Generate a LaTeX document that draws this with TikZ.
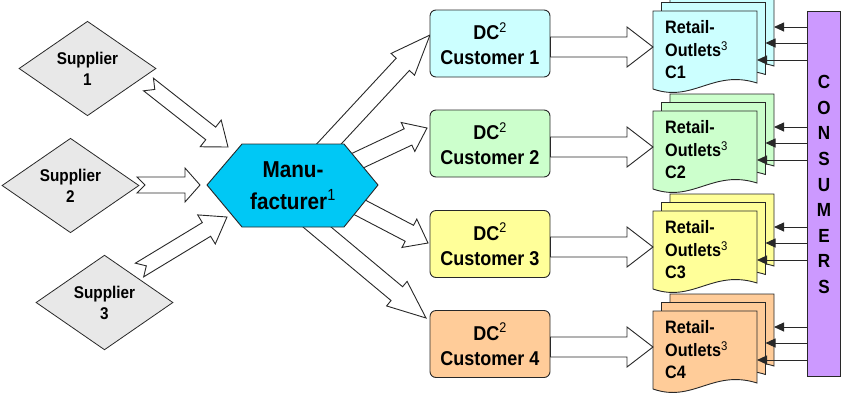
\documentclass[tikz,border=0pt]{standalone}
\usepackage{fontspec}
\setmainfont{Liberation Sans}[FakeStretch=0.9]
\usetikzlibrary{shapes.geometric,calc,arrows.meta}
\definecolor{cyanbox}{RGB}{204,255,255}
\definecolor{greenbox}{RGB}{204,255,204}
\definecolor{yellowbox}{RGB}{255,255,153}
\definecolor{orangebox}{RGB}{255,204,153}
\definecolor{hexblue}{RGB}{0,200,245}
\definecolor{supgray}{RGB}{232,232,232}
\definecolor{lav}{RGB}{204,153,255}
\definecolor{edge}{RGB}{40,40,40}
\newcommand{\blockarr}[6]{%
  \path (#2) coordinate (tmpB) ($(#2)!#5!(#1)$) coordinate (tmpH);
  \draw[blockarrow] ($(#1)!#3!90:(#2)$) -- ($(tmpH)!#3!90:(#2)$) -- ($(tmpH)!#4!90:(#2)$)
    -- (#2) -- ($(tmpH)!#4!-90:(#2)$) -- ($(tmpH)!#3!-90:(#2)$) -- ($(#1)!#3!-90:(#2)$)
    -- ($(#1)!#6!(#2)$) -- cycle;}
\newcommand{\docshape}[3]{%
  \draw[docline, fill=#3] (#1,#2) -- ++(104,0) -- ++(0,72)
    .. controls +(-44,-14) and +(40,14) .. ++(-104,6) -- cycle;}
\newcommand{\docstack}[4]{%
  \foreach \k in {2,1,0} {\docshape{653+8.5*\k}{#2-8.5*\k}{#3}}
  \coordinate (#1-a) at (774,#2+16);
  \coordinate (#1-b) at (765.5,#2+32);
  \coordinate (#1-c) at (757,#2+49);
  \node[rtext] (#1) at (665,#2+39) {Retail-\\Outlets\textsuperscript{\mdseries 3}\\#4};}
\begin{document}
\begin{tikzpicture}[x=1pt,y=-1pt,
  supplier/.style={shape=diamond, draw=edge, line width=0.8pt, fill=supgray, inner sep=0pt,
    minimum width=137pt, minimum height=83pt, align=center,
    font=\bfseries\fontsize{17}{21}\selectfont},
  blockarrow/.style={draw=edge, line width=0.9pt, fill=white, line join=miter},
  hexstyle/.style={draw=edge, line width=0.9pt, fill=hexblue},
  mfgtext/.style={align=center, inner sep=0pt, font=\bfseries\fontsize{23}{32}\selectfont},
  dcbox/.style={draw=edge, line width=0.9pt, rounded corners=6pt, minimum width=120pt,
    minimum height=67pt, inner sep=0pt, align=center, font=\bfseries\fontsize{20}{25}\selectfont},
  docline/.style={draw=edge, line width=0.9pt},
  rtext/.style={anchor=west, align=left, inner sep=0pt, font=\bfseries\fontsize{18}{22.5}\selectfont},
  consbar/.style={draw=edge, line width=0.9pt, fill=lav, minimum width=33pt, minimum height=365pt, inner sep=0pt},
  constext/.style={align=center, inner sep=0pt, font=\bfseries\fontsize{19}{25.6}\selectfont},
  consarr/.style={draw=edge, line width=0.9pt, -{Triangle[length=10pt,width=9pt]}}
]
\useasboundingbox (0,0) rectangle (842,394);
% suppliers
\node[supplier] (sup1) at (87.5,68.5) {Supplier\\1};
\node[supplier] (sup2) at (70.5,185.5) {Supplier\\2};
\node[supplier] (sup3) at (104.5,302.5) {Supplier\\3};
% coordinates
\coordinate (s1o) at (148.5,84.5);  \coordinate (m1i) at (228,147);
\coordinate (s2o) at (137,185);     \coordinate (m2i) at (200,185);
\coordinate (s3o) at (139.5,270);   \coordinate (m3i) at (227,217);
\coordinate (mo1) at (315,159);     \coordinate (d1i) at (430,35);
\coordinate (mo2) at (338.6,169.6); \coordinate (d2i) at (427,128);
\coordinate (mo3) at (340.9,197.5); \coordinate (d3i) at (428,243);
\coordinate (mo4) at (300.6,213.3); \coordinate (d4i) at (426,318);
% manufacturer -> DC arrows (behind hexagon)
\blockarr{mo1}{d1i}{9pt}{16pt}{40pt}{0pt}
\blockarr{mo2}{d2i}{9pt}{16pt}{21pt}{0pt}
\blockarr{mo3}{d3i}{9pt}{16pt}{21pt}{0pt}
\blockarr{mo4}{d4i}{9pt}{16pt}{38pt}{0pt}
% manufacturer
\draw[hexstyle] (207,185) -- (242,144) -- (344,144) -- (378,185) -- (344,227) -- (242,227) -- cycle;
\node[mfgtext] (mfg) at (293,185.5) {Manu-\\facturer\textsuperscript{\mdseries 1}};
% supplier arrows
\blockarr{s1o}{m1i}{8pt}{17pt}{22pt}{8pt}
\blockarr{s2o}{m2i}{8pt}{17pt}{15pt}{8pt}
\blockarr{s3o}{m3i}{8pt}{17pt}{24pt}{8pt}
% DC boxes
\node[dcbox, fill=cyanbox] (dc1) at (490,43.5) {DC\textsuperscript{\mdseries 2}\\Customer 1};
\node[dcbox, fill=greenbox] (dc2) at (490,143.5) {DC\textsuperscript{\mdseries 2}\\Customer 2};
\node[dcbox, fill=yellowbox] (dc3) at (490,244) {DC\textsuperscript{\mdseries 2}\\Customer 3};
\node[dcbox, fill=orangebox] (dc4) at (490,344) {DC\textsuperscript{\mdseries 2}\\Customer 4};
% retail stacks
\docstack{r1}{11}{cyanbox}{C1}
\docstack{r2}{111}{greenbox}{C2}
\docstack{r3}{211}{yellowbox}{C3}
\docstack{r4}{311}{orangebox}{C4}
% DC -> retail arrows
\coordinate (dco1) at ($(dc1.east)+(0,3.5)$); \coordinate (ri1) at (653,47);
\coordinate (dco2) at ($(dc2.east)+(0,3.5)$); \coordinate (ri2) at (653,147);
\coordinate (dco3) at ($(dc3.east)+(0,3)$);   \coordinate (ri3) at (653,247);
\coordinate (dco4) at ($(dc4.east)+(0,3)$);   \coordinate (ri4) at (653,347);
\blockarr{dco1}{ri1}{10pt}{20pt}{26pt}{0pt}
\blockarr{dco2}{ri2}{10pt}{20pt}{26pt}{0pt}
\blockarr{dco3}{ri3}{10pt}{20pt}{26pt}{0pt}
\blockarr{dco4}{ri4}{10pt}{20pt}{26pt}{0pt}
% consumers
\node[consbar] (cons) at (823.5,193.5) {};
\node[constext] (constxt) at (824,184.5) {C\\O\\N\\S\\U\\M\\E\\R\\S};
\foreach \r in {r1,r2,r3,r4} {
  \draw[consarr] (cons.west |- \r-a) -- (\r-a);
  \draw[consarr] (cons.west |- \r-b) -- (\r-b);
  \draw[consarr] (cons.west |- \r-c) -- (\r-c);
}
\end{tikzpicture}
\end{document}
